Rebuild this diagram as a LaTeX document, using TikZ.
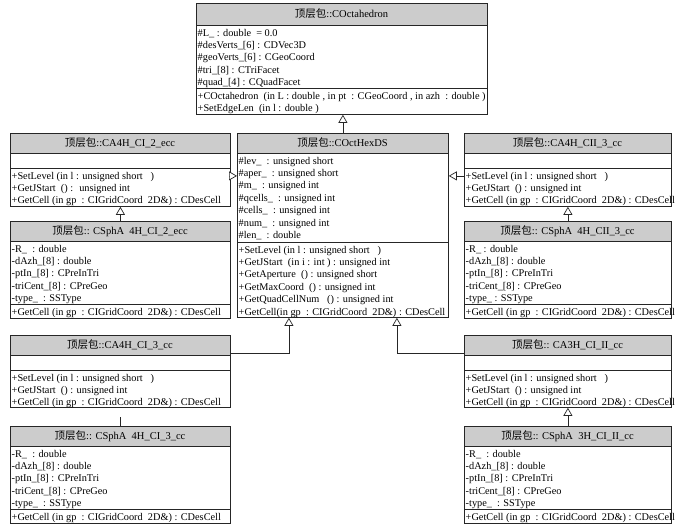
\documentclass[tikz,border=0pt]{standalone}
\usepackage{fontspec}
\setmainfont{Liberation Serif}
\newfontfamily\cjk{Noto Sans CJK SC}
\usetikzlibrary{arrows.meta}
\newcommand\umlbox[7]{%
  \fill[hdrfill] (#2,#3) rectangle ++(#4,#7);
  \node[umlframe, minimum width=#4pt, minimum height=#5pt] (#1) at (#2,#3) {};
  \draw[sepline] (#2,#3+#7) -- ++(#4,0);
  \node[titletxt] (#1-t) at (#2+#4/2,#3+#7/2) {{\cjk 顶层包}::#6};
}
\newcommand\umllines[4]{%
  \node[linetxt] (#1) at (#2+1.5,#3+3.8) {#4};
}
\begin{document}
\begin{tikzpicture}[x=1pt,y=-1pt,
  hdrfill/.style={fill=black!20},
  umlframe/.style={draw=black!85, line width=0.8pt, inner sep=0, anchor=north west},
  sepline/.style={draw=black!85, line width=0.7pt},
  titletxt/.style={font=\fontsize{10.5}{12}\selectfont, inner sep=0},
  linetxt/.style={font=\fontsize{10.3}{12.4}\selectfont, anchor=north west, align=left, inner sep=0},
  gen/.style={-{Triangle[open, fill=white, width=9pt, length=8pt]}, line width=0.7pt, draw=black!85},
  plain/.style={line width=0.7pt, draw=black!85}]
\fill[white] (0,0) rectangle (682,529);
\useasboundingbox (0,0) rectangle (682,529);

% top class
\umlbox{oct}{196}{3}{291}{111}{COctahedron}{22}
\umllines{octa}{196}{25}{\#L\_ : double ~= 0.0\\\#desVerts\_[6] : CDVec3D\\\#geoVerts\_[6] : CGeoCoord\\\#tri\_[8] : CTriFacet\\\#quad\_[4] : CQuadFacet}
\draw[sepline] (196,88) -- ++(291,0);
\umllines{octm}{196}{88}{+COctahedron ~(in L : double , in pt ~: CGeoCoord , in azh ~: double )\\+SetEdgeLen ~(in l : double )}

% center class
\umlbox{hex}{237}{133}{211}{184}{COctHexDS}{20}
\umllines{hexa}{237}{153}{\#lev\_ ~: unsigned short\\\#aper\_ ~: unsigned short\\\#m\_ ~: unsigned int\\\#qcells\_ ~: unsigned int\\\#cells\_ ~: unsigned int\\\#num\_ ~: unsigned int\\\#len\_ ~: double}
\draw[sepline] (237,242) -- ++(211,0);
\umllines{hexm}{237}{242}{+SetLevel (in l : unsigned short ~~)\\+GetJStart ~(in i : int ) : unsigned int\\+GetAperture ~() : unsigned short\\+GetMaxCoord ~() : unsigned int\\+GetQuadCellNum ~~() : unsigned int\\+GetCell(in gp ~: CIGridCoord ~2D\&) : CDesCell}

% middle left
\umlbox{caL}{10}{133}{220}{73}{CA4H\_CI\_2\_ecc}{20}
\draw[sepline] (10,168) -- ++(220,0);
\umllines{caLm}{10}{168}{+SetLevel (in l : unsigned short ~~)\\+GetJStart ~() : ~unsigned int\\+GetCell (in gp ~: CIGridCoord ~2D\&) : CDesCell}

\umlbox{spL}{10}{221}{220}{97}{ CSphA ~4H\_CI\_2\_ecc}{20}
\umllines{spLa}{10}{241}{-R\_ ~: double\\-dAzh\_[8] : double\\-ptIn\_[8] : CPreInTri\\-triCent\_[8] : CPreGeo\\-type\_ ~: SSType}
\draw[sepline] (10,304) -- ++(220,0);
\umllines{spLm}{10}{304}{+GetCell (in gp ~: CIGridCoord ~2D\&) : CDesCell}

% middle right
\umlbox{caR}{464}{133}{207}{73}{CA4H\_CII\_3\_cc}{20}
\draw[sepline] (464,168) -- ++(207,0);
\umllines{caRm}{464}{168}{+SetLevel (in l : unsigned short ~~)\\+GetJStart ~() : unsigned int\\+GetCell (in gp ~: CIGridCoord ~2D\&) : CDesCell}

\umlbox{spR}{464}{221}{207}{97}{ CSphA ~4H\_CII\_3\_cc}{20}
\umllines{spRa}{464}{241}{-R\_ : double\\-dAzh\_[8] : double\\-ptIn\_[8] : CPreInTri\\-triCent\_[8] : CPreGeo\\-type\_ : SSType}
\draw[sepline] (464,304) -- ++(207,0);
\umllines{spRm}{464}{304}{+GetCell (in gp ~: CIGridCoord ~2D\&) : CDesCell}

% bottom left
\umlbox{cbL}{10}{335}{220}{72}{CA4H\_CI\_3\_cc}{20}
\draw[sepline] (10,370) -- ++(220,0);
\umllines{cbLm}{10}{370}{+SetLevel (in l : unsigned short ~~)\\+GetJStart ~() : unsigned int\\+GetCell (in gp ~: CIGridCoord ~2D\&) : CDesCell}

\umlbox{sbL}{10}{426}{220}{97}{ CSphA ~4H\_CI\_3\_cc}{20}
\umllines{sbLa}{10}{446}{-R\_ ~: double\\-dAzh\_[8] : double\\-ptIn\_[8] : CPreInTri\\-triCent\_[8] : CPreGeo\\-type\_ ~: SSType}
\draw[sepline] (10,509) -- ++(220,0);
\umllines{sbLm}{10}{509}{+GetCell (in gp ~: CIGridCoord ~2D\&) : CDesCell}

% bottom right
\umlbox{cbR}{464}{335}{207}{72}{ CA3H\_CI\_II\_cc}{20}
\draw[sepline] (464,370) -- ++(207,0);
\umllines{cbRm}{464}{370}{+SetLevel (in l : unsigned short ~~)\\+GetJStart ~() : unsigned int\\+GetCell (in gp ~: CIGridCoord ~2D\&) : CDesCell}

\umlbox{sbR}{464}{426}{207}{97}{ CSphA ~3H\_CI\_II\_cc}{20}
\umllines{sbRa}{464}{446}{-R\_ ~: double\\-dAzh\_[8] : double\\-ptIn\_[8] : CPreInTri\\-triCent\_[8] : CPreGeo\\-type\_ ~: SSType}
\draw[sepline] (464,509) -- ++(207,0);
\umllines{sbRm}{464}{509}{+GetCell (in gp ~: CIGridCoord ~2D\&) : CDesCell}

% connectors
\draw[gen] (hex.north) -- (hex.north |- oct.south);
\draw[gen] ([yshift=-6pt]caL.east) -- ([yshift=-6pt]caL.east -| hex.west);
\draw[gen] ([yshift=-6pt]caR.west) -- ([yshift=-6pt]caR.west -| hex.east);
\draw[gen] (spL.north) -- (caL.south);
\draw[gen] (spR.north) -- (caR.south);
\draw[gen] (sbR.north) -- (cbR.south);
\coordinate (tickend) at ([yshift=9pt]sbL.north);
\draw[plain] (sbL.north) -- (tickend);
\draw[gen] ([yshift=-18pt]cbL.north east) -| ([xshift=-54pt]hex.south);
\draw[gen] ([yshift=-18pt]cbR.north west) -| ([xshift=54pt]hex.south);
\end{tikzpicture}
\end{document}
